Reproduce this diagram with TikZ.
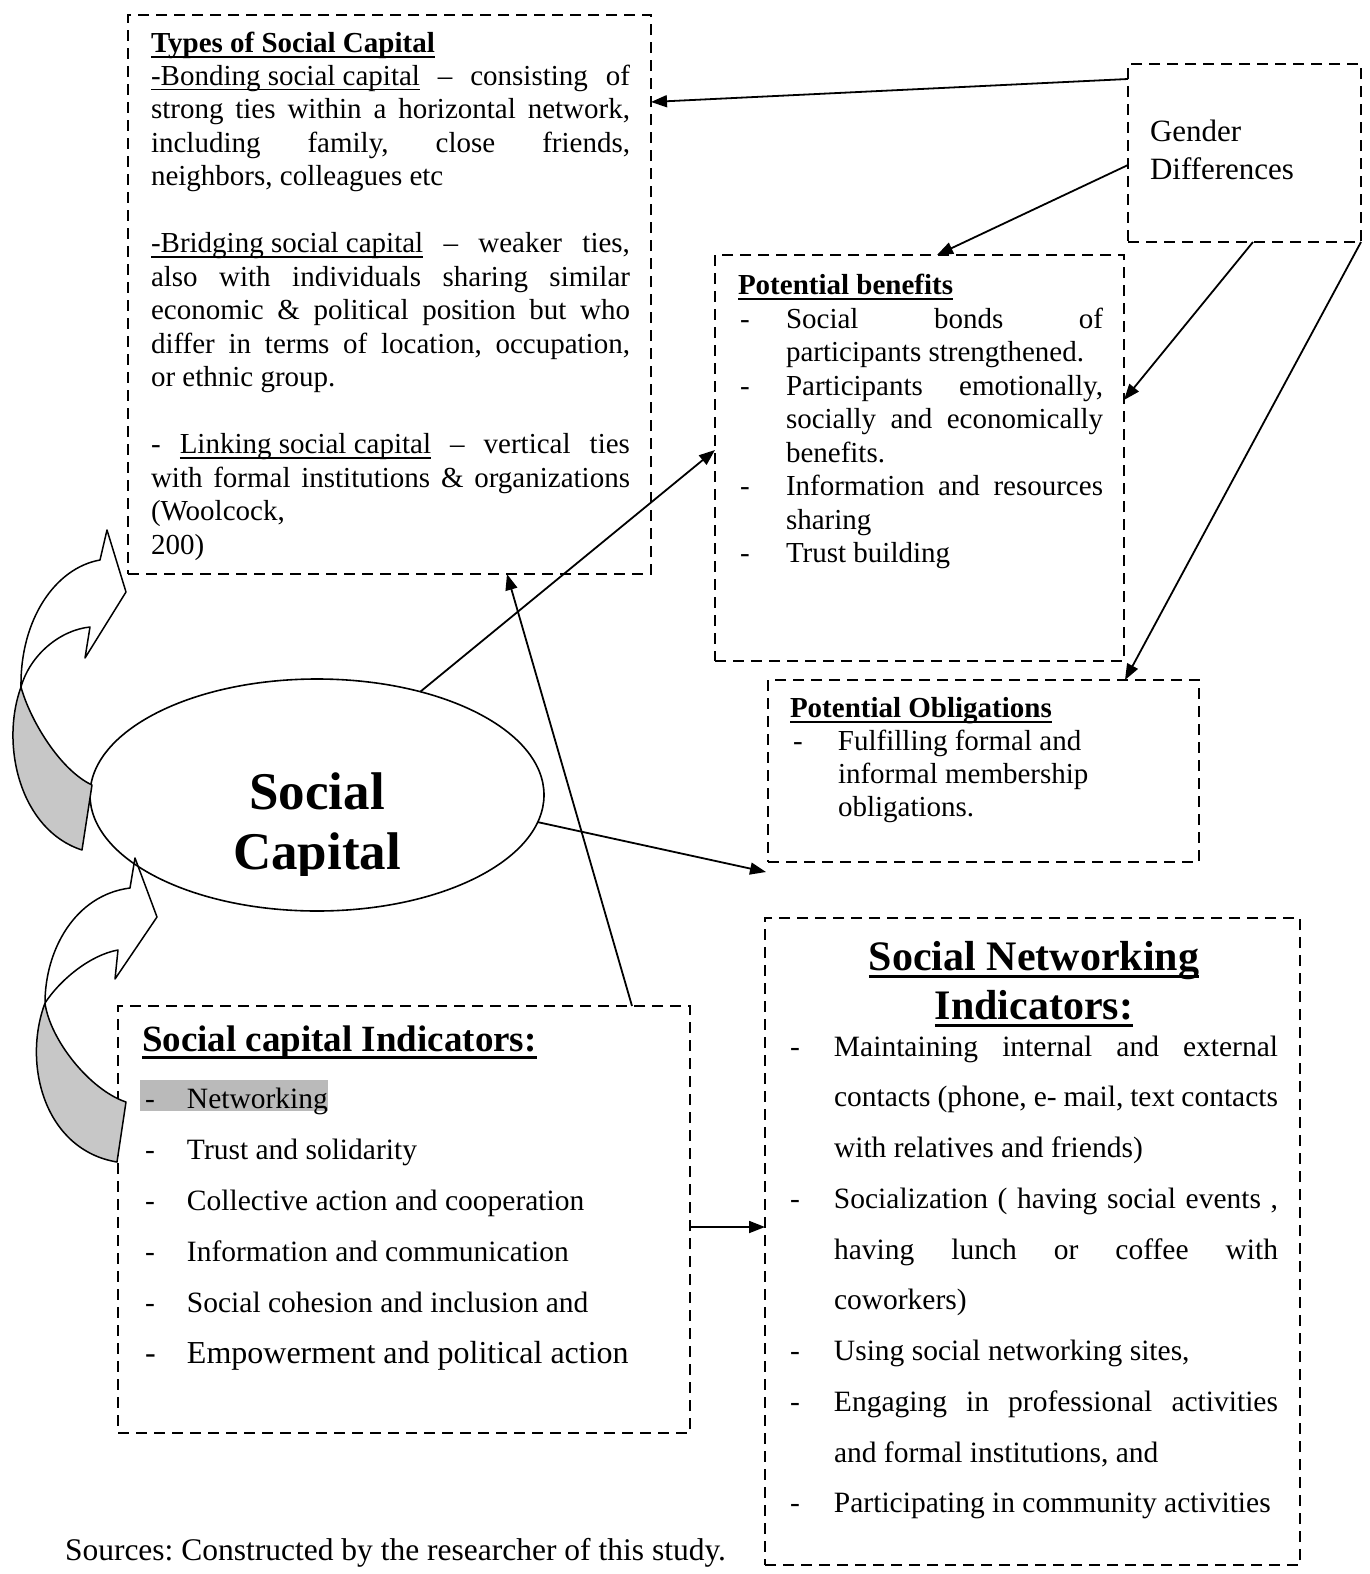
\documentclass[tikz,border=0pt]{standalone}
\usepackage{fontspec}
\setmainfont{Liberation Serif}
\usetikzlibrary{arrows.meta,shapes.geometric}
\frenchspacing
\newcommand\J[1]{\makebox[\linewidth][s]{#1}}
\newcommand\JW[2]{\makebox[#1][s]{#2}}
\newcommand\Dsh[1]{\makebox[#1][l]{-}}
\newsavebox\ulb
% \UL{thickness}{depth}{text}
\newcommand\UL[3]{\leavevmode\sbox\ulb{#3}\rlap{\rule[-#2]{\wd\ulb}{#1}}\usebox\ulb}
\tikzset{
  box/.style={draw, dash pattern=on 11pt off 7pt, line width=2.2pt, inner sep=0pt, outer sep=0pt, anchor=north west},
  arr/.style={line width=1.8pt, -{Triangle[length=16pt,width=12pt]}},
  txt/.style={anchor=base west, inner sep=0pt, outer sep=0pt},
  blk/.style={line width=1.5pt, line join=round},
  tail/.style={fill=black!22},
}
\begin{document}
\begin{tikzpicture}[x=1pt,y=-1pt]
\useasboundingbox (0,0) rectangle (1369,1574);
\fill[white] (0,0) rectangle (1369,1574);

% ---------- boxes ----------
\node[box, minimum width=523pt, minimum height=559pt] (types) at (128,15) {};
\node[box, minimum width=233pt, minimum height=178pt] (gender) at (1128,64) {};
\node[box, minimum width=409pt, minimum height=406pt] (benefits) at (715,255) {};
\node[box, minimum width=431pt, minimum height=182pt] (oblig) at (768,680) {};
\node[box, minimum width=535pt, minimum height=647pt] (sni) at (765,918) {};
\node[box, minimum width=572pt, minimum height=427pt] (sci) at (118,1006) {};

% ---------- Types of Social Capital ----------
\node[txt] (typestxt) at (151,52) {\begin{minipage}[t]{479pt}\fontsize{29}{33.47}\selectfont
\textbf{\UL{2pt}{6pt}{Types of Social Capital}}\\
\J{\UL{1.5pt}{5pt}{-Bonding social capital} – consisting of}\\
\J{strong ties within a horizontal network,}\\
\J{including family, close friends,}\\
neighbors, colleagues etc\\
\mbox{}\\
\J{\UL{1.5pt}{5pt}{-Bridging social capital} – weaker ties,}\\
\J{also with individuals sharing similar}\\
\J{economic \& political position but who}\\
\J{differ in terms of location, occupation,}\\
or ethnic group.\\
\mbox{}\\
\J{- \UL{1.5pt}{5pt}{Linking social capital} – vertical ties}\\
\J{with formal institutions \& organizations}\\
(Woolcock,\\
200)
\end{minipage}};

% ---------- Gender ----------
\node[txt] (gendertxt) at (1150,141) {\begin{minipage}[t]{200pt}\fontsize{31}{38}\selectfont
Gender\\
Differences
\end{minipage}};

% ---------- Potential benefits ----------
\node[txt] (bentitle) at (738,294) {\fontsize{29}{33.5}\selectfont\textbf{\UL{2pt}{6pt}{Potential benefits}}};
\node[txt] (bentxt) at (740,328) {\begin{minipage}[t]{370pt}\fontsize{29}{33.5}\selectfont
\Dsh{46pt}\JW{317pt}{Social bonds of}\\
\hspace*{46pt}participants strengthened.\\
\Dsh{46pt}\JW{317pt}{Participants emotionally,}\\
\hspace*{46pt}\JW{317pt}{socially and economically}\\
\hspace*{46pt}benefits.\\
\Dsh{46pt}\JW{317pt}{Information and resources}\\
\hspace*{46pt}sharing\\
\Dsh{46pt}Trust building
\end{minipage}};

% ---------- Potential Obligations ----------
\node[txt] (obltitle) at (790,717) {\fontsize{29}{33}\selectfont\textbf{\UL{2pt}{6pt}{Potential Obligations}}};
\node[txt] (obltxt) at (793,750) {\begin{minipage}[t]{390pt}\fontsize{29}{33}\selectfont
\Dsh{45pt}Fulfilling formal and\\
\hspace*{45pt}informal membership\\
\hspace*{45pt}obligations.
\end{minipage}};

% ---------- Social capital Indicators ----------
\fill[black!27] (140,1080) rectangle (328,1111);
\node[txt] (scititle) at (142,1051) {\fontsize{37}{44}\selectfont\textbf{\UL{2.6pt}{7.5pt}{Social capital Indicators:}}};
\node[txt] (scitxt) at (145,1108) {\begin{minipage}[t]{520pt}\fontsize{29.5}{51}\selectfont
\Dsh{42pt}Networking\\
\Dsh{42pt}Trust and solidarity\\
\Dsh{42pt}Collective action and cooperation\\
\Dsh{42pt}Information and communication\\
\Dsh{42pt}Social cohesion and inclusion and\\
{\fontsize{32}{51}\selectfont\Dsh{42pt}Empowerment and political action}
\end{minipage}};

% ---------- Social Networking Indicators ----------
\node[anchor=base, inner sep=0pt] (snititle) at (1034,970) {\begin{minipage}[t]{520pt}\centering\fontsize{42}{49}\selectfont\bfseries
\UL{3pt}{8pt}{Social Networking}\\
\UL{3pt}{8pt}{Indicators:}
\end{minipage}};
\node[txt] (snitxt) at (790,1056) {\begin{minipage}[t]{500pt}\fontsize{29.5}{50.75}\selectfont
\Dsh{44pt}\JW{444pt}{Maintaining internal and external}\\
\hspace*{44pt}\JW{444pt}{contacts (phone, e- mail, text contacts}\\
\hspace*{44pt}with relatives and friends)\\
\Dsh{44pt}\JW{444pt}{Socialization ( having social events ,}\\
\hspace*{44pt}\JW{444pt}{having lunch or coffee with}\\
\hspace*{44pt}coworkers)\\
\Dsh{44pt}Using social networking sites,\\
\Dsh{44pt}\JW{444pt}{Engaging in professional activities}\\
\hspace*{44pt}and formal institutions, and\\
\Dsh{44pt}Participating in community activities
\end{minipage}};

% ---------- Sources ----------
\node[txt] (sources) at (65,1560) {\fontsize{31.5}{36}\selectfont Sources: Constructed by the researcher of this study.};

% ---------- Ellipse ----------
\node[draw, ellipse, line width=1.6pt, minimum width=454pt, minimum height=232pt, inner sep=0pt, outer sep=0pt] (ell) at (317,795) {};
\begin{scope}
\clip (0,0) rectangle (1369,875);
\node[anchor=base, inner sep=0pt] (sctxt) at (317,809) {\begin{minipage}[t]{400pt}\centering\fontsize{53}{60}\selectfont\bfseries
Social\\
Capital
\end{minipage}};
\end{scope}

% ---------- connectors ----------
\draw[arr] ([yshift=-15pt]gender.north west) -- ([yshift=-87pt]types.north east);
\draw[arr] ([yshift=-101pt]gender.north west) -- ([xshift=222pt]benefits.north west);
\draw[arr] ([xshift=125pt]gender.south west) -- ([yshift=-145pt]benefits.north east);
\draw[arr] (gender.south east) -- ([xshift=357pt]oblig.north west);
\draw[arr] (ell.45) -- ([yshift=8pt]benefits.west);
\draw[arr] ([xshift=514pt]sci.north west) -- ([xshift=379pt]types.south west);
\draw[arr] (ell.-7) -- ([xshift=-2pt,yshift=-10pt]oblig.south west);
\draw[arr] ([yshift=-7.5pt]sci.east) -- ([yshift=14.5pt]sni.west);

% ---------- curved block arrows ----------
\fill[tail] (21,687) .. controls (0,745) and (20,830) .. (82,850) -- (92,785) .. controls (60,770) and (30,720) .. (21,687) -- cycle;
\draw[blk] (100,560) -- (107,530) -- (126,592) -- (85,658) -- (90,627) .. controls (60,630) and (30,655) .. (21,687) .. controls (20,620) and (55,568) .. (100,560) -- cycle;
\draw[blk] (21,687) .. controls (0,745) and (20,830) .. (82,850) -- (92,785) .. controls (60,770) and (30,720) .. (21,687);

\fill[tail] (45,1003) .. controls (22,1065) and (45,1150) .. (117,1162) -- (126,1102) .. controls (90,1090) and (50,1040) .. (45,1003) -- cycle;
\draw[blk] (130,888) -- (135,858) -- (157,917) -- (115,979) -- (118,950) .. controls (90,955) and (60,980) .. (45,1003) .. controls (45,950) and (75,895) .. (130,888) -- cycle;
\draw[blk] (45,1003) .. controls (22,1065) and (45,1150) .. (117,1162) -- (126,1102) .. controls (90,1090) and (50,1040) .. (45,1003);
\end{tikzpicture}
\end{document}
